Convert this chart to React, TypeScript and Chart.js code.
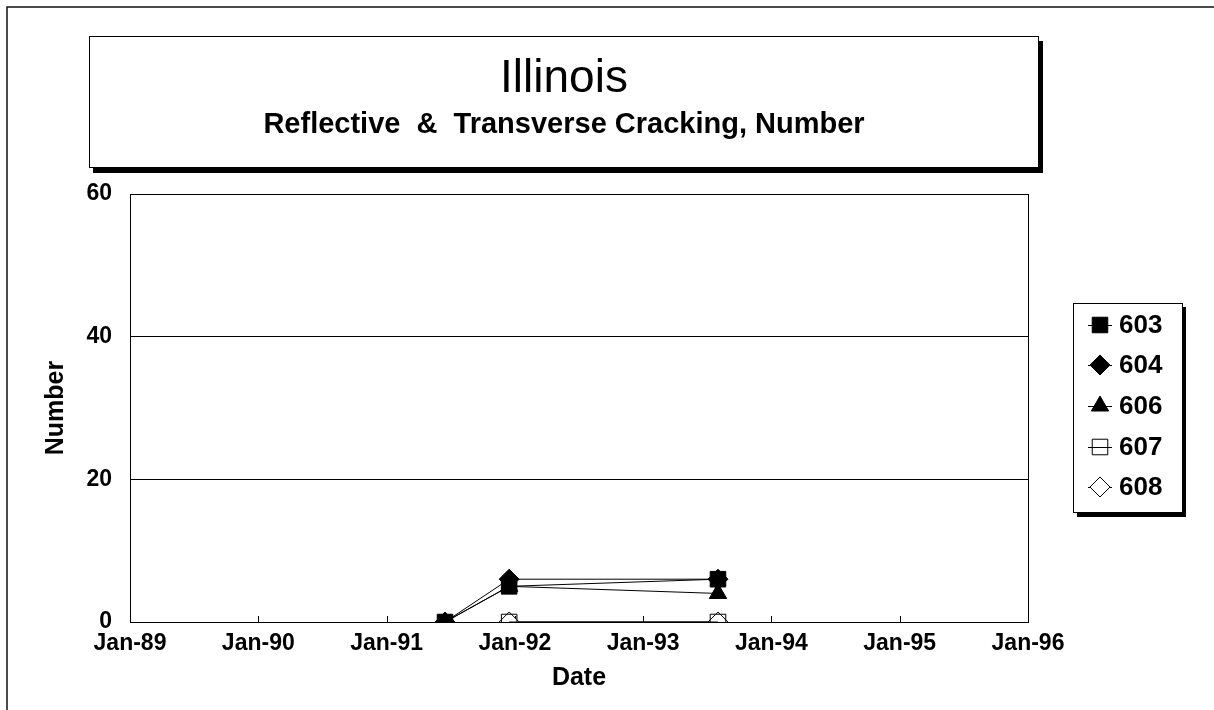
import React, { useEffect, useRef } from "react";
import { Chart, registerables } from "chart.js";

Chart.register(...registerables);

const TITLE = "Illinois";
const SUBTITLE = "Reflective  &  Transverse Cracking, Number";
const X_TITLE = "Date";
const Y_TITLE = "Number";

const SURVEY_DATES = ["1991-06-15", "1991-12-15", "1993-08-01"];
const SERIES_NAMES = ["603", "604", "606", "607", "608"];
const S603 = [0, 5, 6];
const S604 = [0, 6, 6];
const S606 = [0, 5, 4];
const S607 = [null, 0, 0];
const S608 = [null, 0, 0];

const X_TICK_LABELS = ["Jan-89", "Jan-90", "Jan-91", "Jan-92", "Jan-93", "Jan-94", "Jan-95", "Jan-96"];
const Y_TICKS = [0, 20, 40, 60];

const FONT = "'Liberation Sans', Arial, Helvetica, sans-serif";

function monthsSince1989(d: string): number {
  const [y, m, day] = d.split("-").map(Number);
  return (y - 1989) * 12 + (m - 1) + (day - 1) / 30;
}

type Marker = { style: string; fill: string; radius: number };
const MARKERS: Marker[] = [
  { style: "rect", fill: "#000", radius: 11 },
  { style: "rectRot", fill: "#000", radius: 10 },
  { style: "triangle", fill: "#000", radius: 10 },
  { style: "rect", fill: "rgba(0,0,0,0)", radius: 11 },
  { style: "rectRot", fill: "#fff", radius: 10 },
];

function drawMarker(ctx: CanvasRenderingContext2D, m: Marker, x: number, y: number) {
  const r = m.radius;
  ctx.beginPath();
  if (m.style === "rect") {
    const s = Math.SQRT1_2 * r;
    ctx.rect(x - s, y - s, 2 * s, 2 * s);
  } else if (m.style === "rectRot") {
    ctx.moveTo(x, y - r);
    ctx.lineTo(x + r, y);
    ctx.lineTo(x, y + r);
    ctx.lineTo(x - r, y);
    ctx.closePath();
  } else {
    ctx.moveTo(x, y - r);
    ctx.lineTo(x + Math.sin((2 * Math.PI) / 3) * r, y - Math.cos((2 * Math.PI) / 3) * r);
    ctx.lineTo(x + Math.sin((4 * Math.PI) / 3) * r, y - Math.cos((4 * Math.PI) / 3) * r);
    ctx.closePath();
  }
  ctx.fillStyle = m.fill;
  ctx.fill();
  ctx.strokeStyle = "#000";
  ctx.lineWidth = 1;
  ctx.stroke();
}

const decorPlugin = {
  id: "decor",
  beforeDraw(chart: any) {
    const ctx = chart.ctx as CanvasRenderingContext2D;
    ctx.save();
    ctx.fillStyle = "#fff";
    ctx.fillRect(0, 0, chart.width, chart.height);
    // outer frame (left & top)
    ctx.strokeStyle = "#111";
    ctx.lineWidth = 1.5;
    ctx.beginPath();
    ctx.moveTo(7, chart.height);
    ctx.lineTo(7, 7);
    ctx.lineTo(chart.width, 7);
    ctx.stroke();

    // title box with shadow
    ctx.fillStyle = "#000";
    ctx.fillRect(93, 167, 950, 6);
    ctx.fillRect(1038, 41, 5, 132);
    ctx.fillStyle = "#fff";
    ctx.fillRect(89, 36, 949, 131);
    ctx.strokeStyle = "#000";
    ctx.lineWidth = 1;
    ctx.strokeRect(89.5, 36.5, 949, 131);

    // legend box with shadow
    ctx.fillStyle = "#000";
    ctx.fillRect(1077, 512, 109, 5);
    ctx.fillRect(1182, 307, 4, 210);
    ctx.fillStyle = "#fff";
    ctx.fillRect(1073, 303, 109, 209);
    ctx.strokeStyle = "#000";
    ctx.strokeRect(1073.5, 303.5, 109, 209);
    ctx.restore();
  },
  beforeDatasetsDraw(chart: any) {
    const ctx = chart.ctx as CanvasRenderingContext2D;
    const a = chart.chartArea;
    const xs = chart.scales.x;
    ctx.save();
    ctx.strokeStyle = "#000";
    ctx.lineWidth = 1;
    ctx.strokeRect(Math.round(a.left) + 0.5, Math.round(a.top) + 0.5, Math.round(a.right - a.left), Math.round(a.bottom - a.top));
    ctx.beginPath();
    for (const t of xs.ticks) {
      const px = Math.round(xs.getPixelForValue(t.value)) + 0.5;
      ctx.moveTo(px, a.bottom);
      ctx.lineTo(px, a.bottom - 6);
    }
    ctx.stroke();
    ctx.restore();
  },
  afterDraw(chart: any) {
    const ctx = chart.ctx as CanvasRenderingContext2D;
    ctx.save();
    ctx.fillStyle = "#000";
    ctx.textAlign = "center";
    ctx.textBaseline = "alphabetic";
    ctx.font = `46px ${FONT}`;
    ctx.fillText(TITLE, 564, 92);
    ctx.font = `bold 29px ${FONT}`;
    ctx.fillText(SUBTITLE, 564, 133);

    // legend
    const legendY = [325, 365, 406, 447, 487];
    ctx.textAlign = "left";
    ctx.textBaseline = "middle";
    ctx.font = `bold 26px ${FONT}`;
    SERIES_NAMES.forEach((name, i) => {
      const y = legendY[i];
      ctx.strokeStyle = "#000";
      ctx.lineWidth = 1;
      ctx.beginPath();
      ctx.moveTo(1088, y + 0.5);
      ctx.lineTo(1112, y + 0.5);
      ctx.stroke();
      drawMarker(ctx, MARKERS[i], 1100, y);
      ctx.fillStyle = "#000";
      ctx.fillText(name, 1119, y + 1);
    });
    ctx.restore();
  },
};

export default function App() {
  const ref = useRef<HTMLCanvasElement | null>(null);
  useEffect(() => {
    if (!ref.current) return;
    const xs = SURVEY_DATES.map(monthsSince1989);
    const seriesValues = [S603, S604, S606, S607, S608];
    const datasets = SERIES_NAMES.map((name, i) => ({
      label: name,
      data: seriesValues[i].map((v, j) => ({ x: xs[j], y: v })),
      borderColor: "#000",
      borderWidth: 1,
      backgroundColor: MARKERS[i].fill,
      pointStyle: MARKERS[i].style,
      pointRadius: MARKERS[i].radius,
      pointBackgroundColor: MARKERS[i].fill,
      pointBorderColor: "#000",
      pointBorderWidth: 1,
      spanGaps: false,
      tension: 0,
    }));
    const chart = new Chart(ref.current, {
      type: "line",
      data: { datasets },
      plugins: [decorPlugin],
      options: {
        animation: false,
        responsive: false,
        devicePixelRatio: 1,
        layout: { padding: { left: 8, right: 186, top: 194, bottom: 0 } },
        plugins: { legend: { display: false }, title: { display: false }, tooltip: { enabled: false } },
        font: { family: FONT },
        scales: {
          x: {
            type: "linear",
            min: 0,
            max: 84,
            afterBuildTicks: (s: any) => {
              s.ticks = X_TICK_LABELS.map((_, i) => ({ value: i * 12 }));
            },
            afterFit: (s: any) => {
              s.height = 88;
            },
            grid: { display: false, drawTicks: false },
            border: { display: false },
            ticks: {
              autoSkip: false,
              maxRotation: 0,
              padding: 8,
              color: "#000",
              font: { family: FONT, size: 23, weight: "bold" },
              callback: (v: any) => X_TICK_LABELS[Math.round(Number(v) / 12)] ?? "",
            },
            title: {
              display: true,
              text: X_TITLE,
              color: "#000",
              font: { family: FONT, size: 25, weight: "bold", lineHeight: 1.2 },
              padding: { top: 0, bottom: 17 },
            },
          },
          y: {
            min: 0,
            max: 60,
            afterBuildTicks: (s: any) => {
              s.ticks = Y_TICKS.map((v) => ({ value: v }));
            },
            afterFit: (s: any) => {
              s.width = 122;
            },
            grid: { color: "#000", lineWidth: 1, drawTicks: false },
            border: { display: false },
            ticks: {
              padding: 18,
              color: "#000",
              font: { family: FONT, size: 23, weight: "bold" },
            },
            title: {
              display: true,
              text: Y_TITLE,
              color: "#000",
              font: { family: FONT, size: 25, weight: "bold", lineHeight: 1.2 },
              padding: { top: 33, bottom: 0 },
            },
          },
        },
      } as any,
    });
    return () => chart.destroy();
  }, []);
  return (
    <div style={{ position: "absolute", left: 0, top: 0, width: 1214, height: 710 }}>
      <canvas ref={ref} width={1214} height={710} style={{ width: 1214, height: 710, display: "block" }} />
    </div>
  );
}
